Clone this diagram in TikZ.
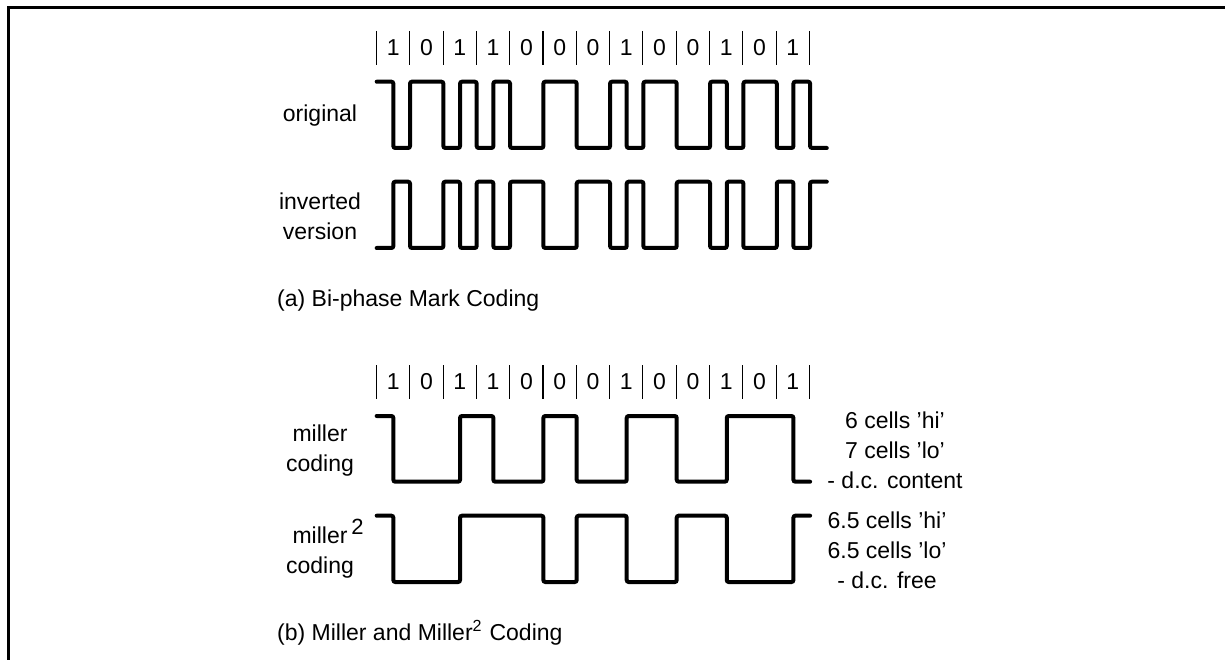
\documentclass[tikz,border=0pt]{standalone}
\usepackage{fontspec}
\setmainfont{Liberation Sans}
\usetikzlibrary{positioning}
\tikzset{
  wave/.style={line width=4pt, rounded corners=2pt, line cap=round},
  tick/.style={line width=1.1pt},
  lbl/.style={inner sep=0pt, font=\fontsize{23}{30}\selectfont, align=center},
  lblleft/.style={lbl, anchor=west},
}
\begin{document}
\begin{tikzpicture}[x=1pt,y=-1pt]
  \useasboundingbox (0,0) rectangle (1225,660);
  % cuadro abierto por abajo y a la derecha
  \draw[line width=2.2pt] (8.5,660) -- (8.5,7.5) -- (1225,7.5);
  % celdas de bits, arriba y abajo
  \foreach \y in {48,382} {
    \foreach \i in {0,...,13} {
      \draw[tick] (376.5+33.3*\i,\y-17) -- (376.5+33.3*\i,\y+17);
    }
    \foreach \b [count=\i from 0] in {1,0,1,1,0,0,0,1,0,0,1,0,1} {
      \node[lbl] (bit\y-\i) at (393.2+33.3*\i,\y) {\b};
    }
  }
  % bi-fase
  \begin{scope}[shift={(376.67,81.7)},x=16.67pt,y=-66.3pt]
    \draw[wave] (0,0) -| (1,1) -| (2,0) -| (4,1) -| (5,0) -| (6,1) -| (7,0) -| (8,1) -| (10,0) -| (12,1)
      -| (14,0) -| (15,1) -| (16,0) -| (18,1) -| (20,0) -| (21,1) -| (22,0) -| (24,1) -| (25,0) -| (26,1) -- (27,1);
  \end{scope}
  \begin{scope}[shift={(376.67,248)},x=16.67pt,y=66.3pt]
    \draw[wave] (0,0) -| (1,1) -| (2,0) -| (4,1) -| (5,0) -| (6,1) -| (7,0) -| (8,1) -| (10,0) -| (12,1)
      -| (14,0) -| (15,1) -| (16,0) -| (18,1) -| (20,0) -| (21,1) -| (22,0) -| (24,1) -| (25,0) -| (26,1) -- (27,1);
  \end{scope}
  % miller
  \begin{scope}[shift={(376.67,416)},x=16.67pt,y=-65.7pt]
    \draw[wave] (0,0) -| (1,1) -| (5,0) -| (7,1) -| (10,0) -| (12,1) -| (15,0) -| (18,1) -| (21,0) -| (25,1) -- (26,1);
  \end{scope}
  \begin{scope}[shift={(376.67,515.7)},x=16.67pt,y=-66.3pt]
    \draw[wave] (0,0) -| (1,1) -| (5,0) -| (10,1) -| (12,0) -| (15,1) -| (18,0) -| (21,1) -| (25,0) -- (26,0);
  \end{scope}
  % textos
  \node[lbl] (original) at (320,116) {original};
  \node[lbl] (inverted) at (320,216) {inverted\\version};
  \node[lblleft] (capa) at (277,301) {(a) Bi-phase Mark Coding};
  \node[lbl] (miller) at (320,451) {miller\\coding};
  \node[lbl] (millersq) at (320,549) {miller\rlap{\,\raisebox{9pt}{\fontsize{22}{22}\selectfont 2}}\\coding};
  \node[lblleft] (capb) at (277,633) {(b) Miller and Miller\textsuperscript{2}\hspace{1pt} Coding};
  \node[lbl] (dcone) at (895,450) {6 cells 'hi'\\7 cells 'lo'\\- d.c. content};
  \node[lbl] (dctwo) at (887,550) {6.5 cells 'hi'\\6.5 cells 'lo'\\- d.c. free};
\end{tikzpicture}
\end{document}
